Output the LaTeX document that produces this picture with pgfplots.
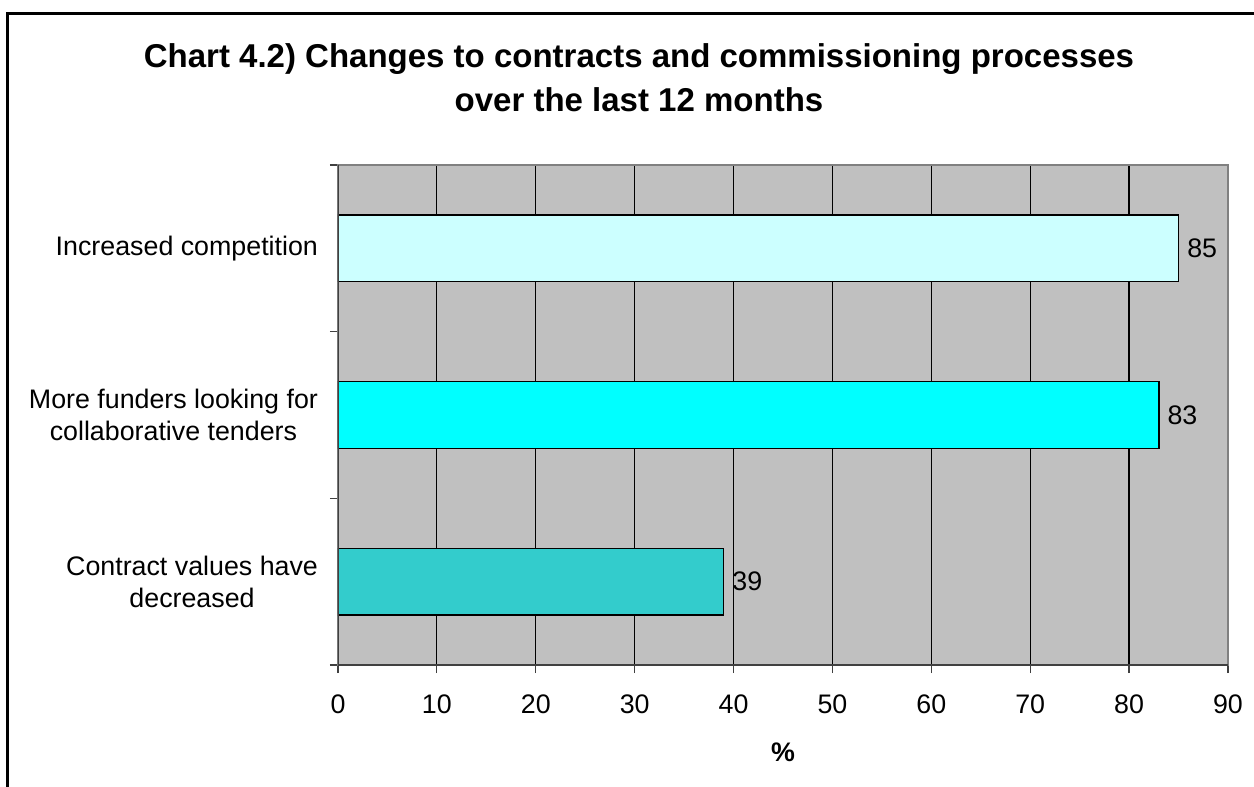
\documentclass[border=0pt]{standalone}
\usepackage{fontspec}
\setmainfont{Liberation Sans}
\usepackage{pgfplots}
\pgfplotsset{compat=1.18}
\definecolor{bgc}{HTML}{C0C0C0}
\definecolor{cA}{HTML}{CCFFFF}
\definecolor{cB}{HTML}{00FFFF}
\definecolor{cC}{HTML}{33CCCC}
\definecolor{axd}{HTML}{404040}
\begin{document}
\begin{tikzpicture}
\useasboundingbox (0,0) rectangle (627pt,393.5pt);
\draw[line width=1.2pt] (3.8pt,-5pt) -- (3.8pt,386.8pt) -- (640pt,386.8pt);
\node[anchor=base, font=\fontsize{16.5}{19}\selectfont\bfseries] at (319.5pt,359.5pt) {Chart 4.2) Changes to contracts and commissioning processes};
\node[anchor=base, font=\fontsize{16.5}{19}\selectfont\bfseries] at (319.5pt,337.5pt) {over the last 12 months};
\begin{axis}[
  at={(169pt,61pt)}, anchor=south west, scale only axis,
  width=445pt, height=250pt,
  xmin=0, xmax=90, ymin=0.5, ymax=3.5, y dir=reverse,
  xbar, bar width=33.33pt, bar shift=0pt,
  axis background/.style={fill=bgc},
  axis line style={draw=gray, line width=1pt},
  xtick={0,10,...,90}, xmajorgrids,
  grid style={black, line width=0.6pt},
  ytick={1,2,3},
  yticklabels={Increased competition,{More funders looking for\\collaborative tenders},{Contract values have\\decreased}},
  minor ytick={0.5,1.5,2.5,3.5},
  tick align=outside, xtick pos=bottom, ytick pos=left,
  major tick length=4pt, minor tick length=4pt,
  tick style={axd, line width=0.6pt},
  major y tick style={draw=none},
  /pgf/number format/assume math mode=true,
  ticklabel style={font=\fontsize{13.4}{16}\selectfont},
  yticklabel style={align=center, xshift=-2.5pt},
  xticklabel style={yshift=-7.5pt},
  xlabel={\bfseries\%},
  xlabel style={font=\fontsize{13.4}{16}\selectfont, yshift=-7.5pt},
  nodes near coords,
  nodes near coords style={font=\fontsize{13.4}{16}\selectfont, anchor=west, inner sep=0pt, xshift=4pt, black},
]
\addplot[fill=cA, draw=black, line width=0.8pt] coordinates {(85,1)};
\addplot[fill=cB, draw=black, line width=0.8pt] coordinates {(83,2)};
\addplot[fill=cC, draw=black, line width=0.8pt] coordinates {(39,3)};
\draw[axd, line width=1pt] (axis cs:0,0.5) -- (axis cs:0,3.5) -- (axis cs:90,3.5);
\end{axis}
\end{tikzpicture}
\end{document}
